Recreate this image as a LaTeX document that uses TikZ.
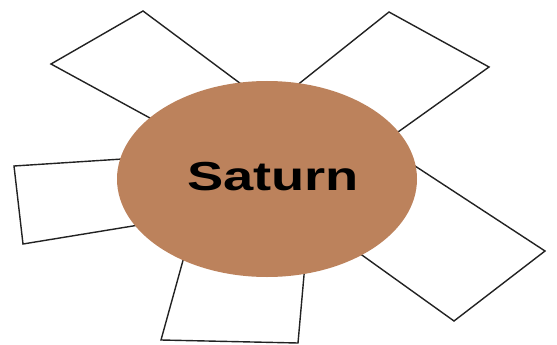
\documentclass[tikz,border=0pt]{standalone}
\usepackage{fontspec}
\setmainfont{Liberation Sans}
\usetikzlibrary{shapes.geometric}
\definecolor{saturnbrown}{RGB}{188,130,92}
\definecolor{lineink}{RGB}{34,34,34}
\begin{document}
\begin{tikzpicture}[x=1pt,y=-1pt,
  card/.style={draw=lineink,line width=1.4pt,fill=white,line join=miter}]
\useasboundingbox (0,0) rectangle (557,345);
% cards behind the planet
\draw[card] (143,11) -- (51,64) -- (280,189) -- (280,113) -- cycle;
\draw[card] (389,12) -- (489,67) -- (370,152) -- (276,102) -- cycle;
\draw[card] (545,251) -- (454,321) -- (320,225) -- (360,130) -- cycle;
\draw[card] (14,166) -- (23,244) -- (200,215) -- (200,154) -- cycle;
\draw[card] (161,340) -- (298,343) -- (308,230) -- (195,217) -- cycle;
% planet
\node[ellipse,fill=saturnbrown,minimum width=300pt,minimum height=196pt,inner sep=0pt] (saturn) at (267,179) {};
\node (label) at (273,177) {\scalebox{1.34}[1]{\fontsize{40.5}{40.5}\selectfont\bfseries Saturn}};
\end{tikzpicture}
\end{document}
